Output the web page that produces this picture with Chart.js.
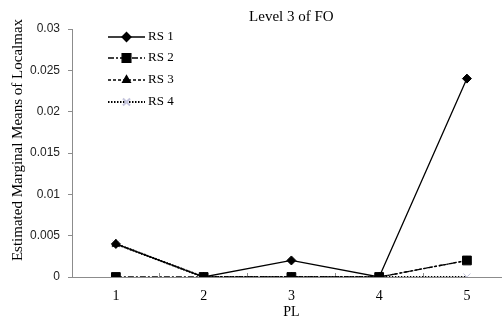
<!DOCTYPE html>
<html>
<head>
<meta charset="utf-8">
<script src="https://cdn.jsdelivr.net/npm/chart.js@4/dist/chart.umd.min.js"></script>
<style>
  html, body { margin: 0; padding: 0; background: #fff; overflow: hidden; }
  #wrap { width: 518px; height: 322px; }
</style>
</head>
<body>
<div id="wrap"><canvas id="chart"></canvas></div>
<script>
// PL levels and the estimated marginal means per RS group
const plLevels = ['1', '2', '3', '4', '5'];
const rs1 = [0.004, 0, 0.002, 0, 0.024];
const rs2 = [0, 0, 0, 0, 0.002];
const rs3 = [0.004, 0, 0, 0, 0.002];
const rs4 = [0.004, 0, 0, 0, 0];
const seriesNames = ['RS 1', 'RS 2', 'RS 3', 'RS 4'];
const yTitle = 'Estimated Marginal Means of Localmax';

const serif = 'Liberation Serif, Times New Roman, serif';
const axisGrey = '#8c8c8c';

// small legend in the top-left of the plot: line sample + marker + name
const lineLegend = {
    id: 'lineLegend',
    afterDraw(chart) {
        const ctx = chart.ctx;
        const x0 = 108, x1 = 145, rows = [37, 58, 80, 102];
        chart.data.datasets.forEach((ds, i) => {
            const y = rows[i];
            ctx.save();
            ctx.strokeStyle = ds.borderColor;
            ctx.lineWidth = ds.borderWidth;
            ctx.setLineDash(ds.borderDash || []);
            ctx.beginPath();
            ctx.moveTo(x0, y);
            ctx.lineTo(x1, y);
            ctx.stroke();
            ctx.setLineDash([]);
            ctx.fillStyle = ds.pointBackgroundColor;
            ctx.strokeStyle = ds.pointBorderColor;
            Chart.helpers.drawPoint(ctx, {
                pointStyle: ds.pointStyle,
                radius: ds.pointRadius,
                rotation: 0,
                borderWidth: ds.pointBorderWidth
            }, (x0 + x1) / 2, y);
            ctx.fillStyle = '#000';
            ctx.font = '13px ' + serif;
            ctx.textBaseline = 'middle';
            ctx.fillText(ds.label, x1 + 3, y);
            ctx.restore();
        });
    }
};

// vertical caption for the value axis, sitting a little above the axis middle
const valueCaption = {
    id: 'valueCaption',
    afterDraw(chart) {
        const ctx = chart.ctx;
        ctx.save();
        ctx.translate(18, 140);
        ctx.rotate(-Math.PI / 2);
        ctx.fillStyle = '#000';
        ctx.font = '15px ' + serif;
        ctx.textAlign = 'center';
        ctx.textBaseline = 'middle';
        ctx.fillText(yTitle, 0, 0);
        ctx.restore();
    }
};

function series(label, data, dash, style, radius, pointColor, width) {
    return {
        label: label,
        data: data,
        borderColor: '#000',
        borderWidth: width,
        borderDash: dash,
        pointStyle: style,
        pointRadius: radius,
        pointHoverRadius: radius,
        pointBackgroundColor: pointColor,
        pointBorderColor: pointColor,
        pointBorderWidth: 1,
        tension: 0,
        fill: false
    };
}

new Chart(document.getElementById('chart'), {
    type: 'line',
    data: {
        labels: plLevels,
        datasets: [
            series(seriesNames[0], rs1, [], 'rectRot', 4.5, '#000', 1.3),
            series(seriesNames[1], rs2, [6, 2, 2, 2], 'rect', 6.2, '#000', 1.3),
            series(seriesNames[2], rs3, [3, 2], 'triangle', 4.5, '#000', 1.3),
            series(seriesNames[3], rs4, [1.5, 1.5], 'crossRot', 5, '#c4c4dc', 2)
        ]
    },
    options: {
        responsive: true,
        maintainAspectRatio: false,
        animation: false,
        layout: { padding: { left: 0, right: 2, top: 0, bottom: 0 } },
        plugins: {
            legend: { display: false },
            tooltip: { enabled: false },
            title: {
                display: true,
                text: 'Level 3 of FO',
                fullSize: false,
                color: '#000',
                font: { family: serif, size: 15, weight: 'normal' },
                padding: { top: 8, bottom: 3 }
            }
        },
        scales: {
            x: {
                offset: true,
                grid: {
                    offset: true,
                    drawOnChartArea: false,
                    tickLength: -4,
                    color: axisGrey
                },
                border: { color: axisGrey, width: 1 },
                ticks: {
                    color: '#000',
                    padding: 15,
                    font: { family: serif, size: 14 }
                },
                title: {
                    display: true,
                    text: 'PL',
                    color: '#000',
                    font: { family: serif, size: 14 },
                    padding: { top: 0, bottom: 1 }
                },
                afterFit(scale) { scale.height = 45; }
            },
            y: {
                min: 0,
                max: 0.03,
                ticks: {
                    stepSize: 0.005,
                    color: '#222',
                    padding: 8,
                    font: { family: 'Liberation Sans, Arial, sans-serif', size: 12 },
                    callback: v => String(parseFloat(v.toFixed(3)))
                },
                grid: {
                    drawOnChartArea: false,
                    tickLength: 4,
                    color: axisGrey
                },
                border: { color: axisGrey, width: 1 },
                afterFit(scale) { scale.width = 72; }
            }
        }
    },
    plugins: [lineLegend, valueCaption]
});
</script>
</body>
</html>
